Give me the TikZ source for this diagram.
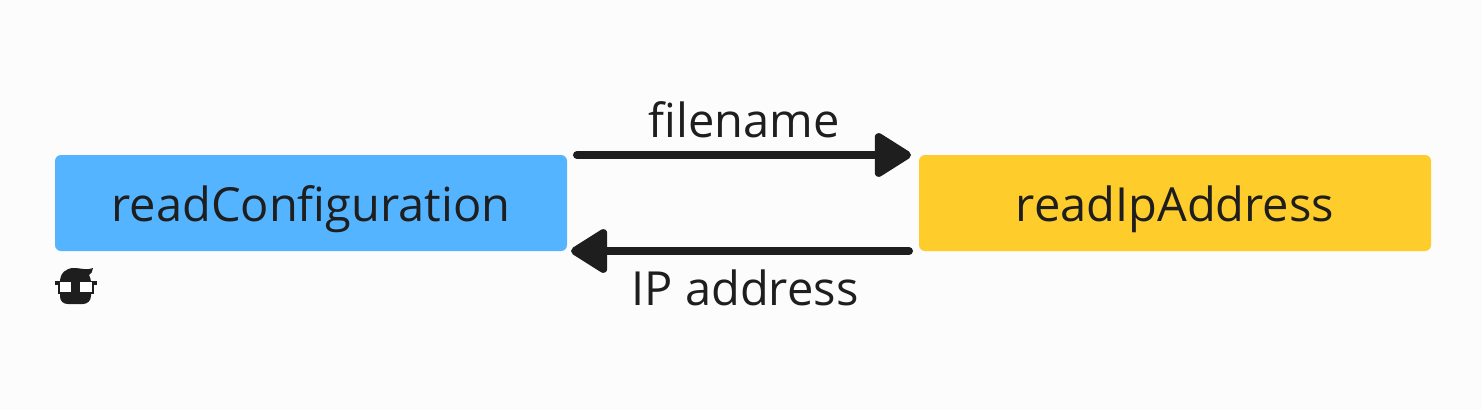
\documentclass[tikz,border=0pt]{standalone}
\usepackage{fontspec}
\setmainfont{Open Sans}
\usetikzlibrary{positioning,arrows.meta}
\definecolor{fond}{HTML}{FCFCFC}
\definecolor{encre}{HTML}{1E1E1E}
\definecolor{bleu}{HTML}{55B4FF}
\definecolor{jaune}{HTML}{FFCD2B}
\begin{document}
\begin{tikzpicture}[x=1pt,y=-1pt]
\tikzstyle{funcbox} = [minimum width=512pt,minimum height=96pt,inner sep=0pt,outer sep=0pt,rounded corners=6pt,text=encre,text height=36pt,text depth=0pt,font=\fontsize{47}{52}\selectfont]
\tikzstyle{flowarrow} = [line width=8pt,color=encre,line cap=round,-{Triangle[length=40pt,width=48pt,round]}]
\tikzstyle{flowlabel} = [text=encre,inner sep=0pt,anchor=base,font=\fontsize{47}{52}\selectfont]
\tikzstyle{lens} = [fill=white,draw=encre,line width=1.2pt]
\fill[fond] (0,0) rectangle (1482,410);

%les deux fonctions
\node[funcbox,fill=bleu] (config) at (311,203) {readConfiguration};
\node[funcbox,fill=jaune,right=352pt of config] (ipaddr) {readIpAddress};

%les fleches
\draw[flowarrow,shorten <=10pt,shorten >=8pt] (config.north east)--(ipaddr.north west);
\draw[flowarrow,shorten <=10pt,shorten >=4pt] (ipaddr.south west)--(config.south east);

%les textes
\node[flowlabel] (fname) at (744,137) {filename};
\node[flowlabel] (ipaddress) at (745,305) {IP address};

%le petit bonhomme
\fill[encre] (60,282) .. controls (60,273) and (66,268) .. (74,268)
  .. controls (80,268) and (86,270) .. (89,269) .. controls (91,269) and (92,268) .. (93,268)
  .. controls (93,271) and (91,274) .. (89,275) .. controls (90,277) and (91,279) .. (91,282)
  -- (91,296) .. controls (91,301) and (87,304) .. (83,304) -- (68,304)
  .. controls (63,304) and (60,301) .. (60,296) -- cycle;
\fill[encre] (55,281.2) rectangle (97,284.5);
\draw[lens] (59,281.7) rectangle (71.5,293);
\draw[lens] (79.5,281.7) rectangle (93,293);
\end{tikzpicture}
\end{document}
